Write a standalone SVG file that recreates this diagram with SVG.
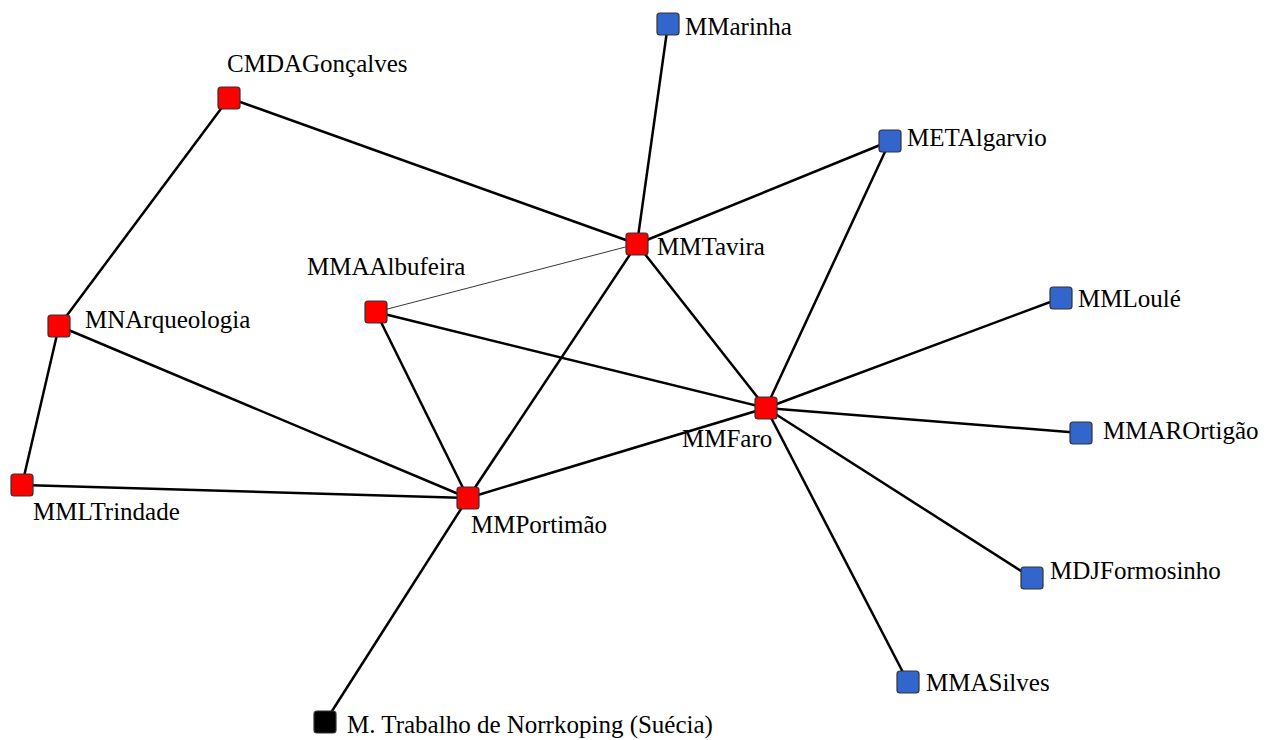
<svg xmlns="http://www.w3.org/2000/svg" width="1273" height="740" viewBox="0 0 1273 740">
<style>
.e{stroke:#000;stroke-width:2.5;fill:none}
.t{stroke:#000;stroke-width:0.8;fill:none}
.n{stroke:#333;stroke-width:1.2}
.r{fill:#ff0000}
.b{fill:#3366cc}
.k{fill:#000}
text{fill:#000;font-size:25px;font-family:"Liberation Serif","Times New Roman",serif}
</style>
<rect width="1273" height="740" fill="#fff"/>
<g id="connectors">
<line class="e" x1="229" y1="98" x2="637" y2="244"/>
<line class="e" x1="229" y1="98" x2="59" y2="326"/>
<line class="e" x1="59" y1="326" x2="22" y2="485"/>
<line class="e" x1="59" y1="326" x2="468" y2="498"/>
<line class="e" x1="22" y1="485" x2="468" y2="498"/>
<line class="t" x1="376" y1="312" x2="637" y2="244"/>
<line class="e" x1="376" y1="312" x2="468" y2="498"/>
<line class="e" x1="376" y1="312" x2="766" y2="408"/>
<line class="e" x1="637" y1="244" x2="668" y2="24"/>
<line class="e" x1="637" y1="244" x2="890" y2="141"/>
<line class="e" x1="637" y1="244" x2="468" y2="498"/>
<line class="e" x1="637" y1="244" x2="766" y2="408"/>
<line class="e" x1="890" y1="141" x2="766" y2="408"/>
<line class="e" x1="766" y1="408" x2="1061" y2="298"/>
<line class="e" x1="766" y1="408" x2="1081" y2="433"/>
<line class="e" x1="766" y1="408" x2="1032" y2="578"/>
<line class="e" x1="766" y1="408" x2="908" y2="682"/>
<line class="e" x1="766" y1="408" x2="468" y2="498"/>
<line class="e" x1="468" y1="498" x2="325" y2="722"/>
</g>
<g id="CMDAGoncalves"><rect class="n r" x="218" y="87" width="22" height="22" rx="3"/><text x="227" y="72">CMDAGonçalves</text></g>
<g id="MMTavira"><rect class="n r" x="626" y="233" width="22" height="22" rx="3"/><text x="657" y="255">MMTavira</text></g>
<g id="MMAAlbufeira"><rect class="n r" x="365" y="301" width="22" height="22" rx="3"/><text x="307" y="275">MMAAlbufeira</text></g>
<g id="MNArqueologia"><rect class="n r" x="48" y="315" width="22" height="22" rx="3"/><text x="85" y="328">MNArqueologia</text></g>
<g id="MMLTrindade"><rect class="n r" x="11" y="474" width="22" height="22" rx="3"/><text x="33" y="520">MMLTrindade</text></g>
<g id="MMPortimao"><rect class="n r" x="457" y="487" width="22" height="22" rx="3"/><text x="471" y="533">MMPortimão</text></g>
<g id="MMFaro"><rect class="n r" x="755" y="397" width="22" height="22" rx="3"/><text x="682" y="447">MMFaro</text></g>
<g id="MMarinha"><rect class="n b" x="657" y="13" width="22" height="22" rx="3"/><text x="685" y="35">MMarinha</text></g>
<g id="METAlgarvio"><rect class="n b" x="879" y="130" width="22" height="22" rx="3"/><text x="907" y="146">METAlgarvio</text></g>
<g id="MMLoule"><rect class="n b" x="1050" y="287" width="22" height="22" rx="3"/><text x="1078" y="307">MMLoulé</text></g>
<g id="MMAROrtigao"><rect class="n b" x="1070" y="422" width="22" height="22" rx="3"/><text x="1103" y="439">MMAROrtigão</text></g>
<g id="MDJFormosinho"><rect class="n b" x="1021" y="567" width="22" height="22" rx="3"/><text x="1050" y="579">MDJFormosinho</text></g>
<g id="MMASilves"><rect class="n b" x="897" y="671" width="22" height="22" rx="3"/><text x="926" y="691">MMASilves</text></g>
<g id="MTrabalho"><rect class="n k" x="314" y="711" width="22" height="22" rx="3"/><text x="347" y="733">M. Trabalho de Norrkoping (Suécia)</text></g>
</svg>
